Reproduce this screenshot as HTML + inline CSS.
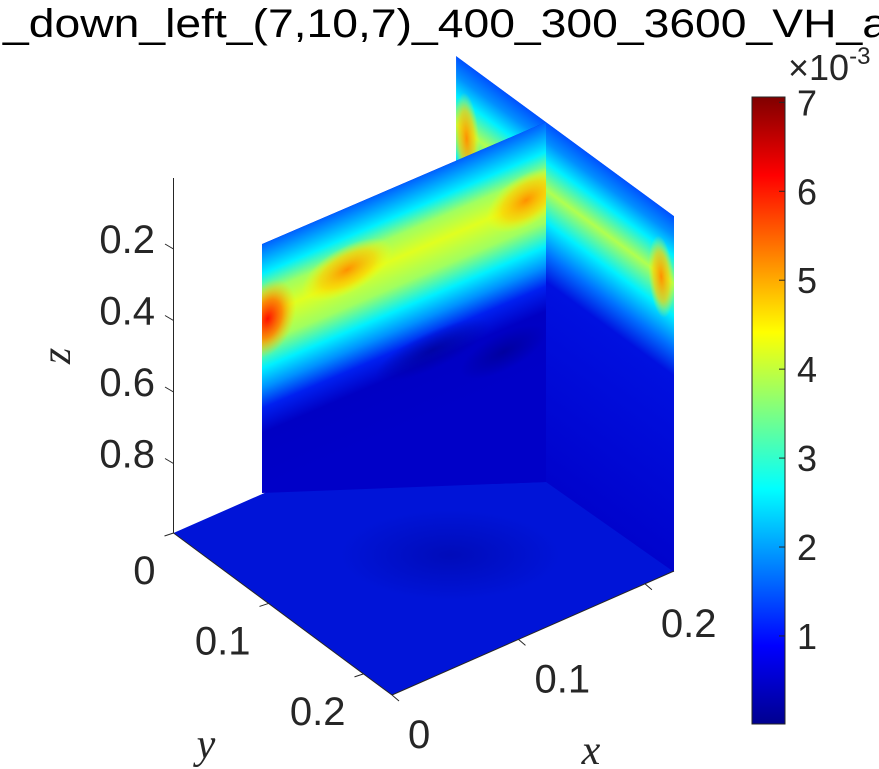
<!DOCTYPE html>
<html><head><meta charset="utf-8"><style>
html,body{margin:0;padding:0;background:#fff;}
svg{display:block;font-family:"Liberation Sans",Arial,sans-serif;}
</style></head><body>
<svg id="chart" width="879" height="769" viewBox="0 0 879 769" xmlns="http://www.w3.org/2000/svg">
<defs>
  <linearGradient id="jet" x1="0" y1="1" x2="0" y2="0">
    <stop offset="0" stop-color="#00008f"/>
    <stop offset="0.125" stop-color="#0000ff"/>
    <stop offset="0.375" stop-color="#00ffff"/>
    <stop offset="0.625" stop-color="#ffff00"/>
    <stop offset="0.875" stop-color="#ff0000"/>
    <stop offset="1" stop-color="#800000"/>
  </linearGradient>
  <linearGradient id="wallBase" x1="0" y1="0" x2="0" y2="1">
    <stop offset="0" stop-color="#0060ff"/>
    <stop offset="0.06" stop-color="#00a8ff"/>
    <stop offset="0.12" stop-color="#00f0ff"/>
    <stop offset="0.2" stop-color="#a0ff60"/>
    <stop offset="0.29" stop-color="#e0ff20"/>
    <stop offset="0.4" stop-color="#a0ff60"/>
    <stop offset="0.5" stop-color="#00f0ff"/>
    <stop offset="0.58" stop-color="#0090ff"/>
    <stop offset="0.66" stop-color="#0020f0"/>
    <stop offset="0.76" stop-color="#0000c4"/>
    <stop offset="1" stop-color="#0000c8"/>
  </linearGradient>
  <linearGradient id="wall2Base" x1="0" y1="0" x2="0" y2="1">
    <stop offset="0" stop-color="#0050ff"/>
    <stop offset="0.05" stop-color="#0090ff"/>
    <stop offset="0.1" stop-color="#00f0ff"/>
    <stop offset="0.17" stop-color="#b0ff50"/>
    <stop offset="0.25" stop-color="#00f0ff"/>
    <stop offset="0.33" stop-color="#0070ff"/>
    <stop offset="0.4" stop-color="#0010e0"/>
    <stop offset="1" stop-color="#0000c8"/>
  </linearGradient>
  <radialGradient id="hotRed">
    <stop offset="0" stop-color="#ff1000"/>
    <stop offset="0.5" stop-color="#ff8000" stop-opacity="0.9"/>
    <stop offset="1" stop-color="#ffd000" stop-opacity="0"/>
  </radialGradient>
  <radialGradient id="hotOrange">
    <stop offset="0" stop-color="#ff9000"/>
    <stop offset="0.6" stop-color="#ffd000" stop-opacity="0.7"/>
    <stop offset="1" stop-color="#ffff00" stop-opacity="0"/>
  </radialGradient>
  <radialGradient id="dark">
    <stop offset="0" stop-color="#000090" stop-opacity="0.7"/>
    <stop offset="1" stop-color="#000090" stop-opacity="0"/>
  </radialGradient>
  <clipPath id="w1clip"><rect x="0" y="0" width="1" height="1.6"/></clipPath>
  <clipPath id="w2clip"><rect x="-0.703" y="0" width="1.703" height="4"/></clipPath>
  <clipPath id="floorclip"><polygon points="262,0 262,493 546,482 674,572 674,0"/></clipPath>
</defs>

<text x="3" y="37" font-size="40" textLength="885" lengthAdjust="spacingAndGlyphs" fill="#000">_down_left_(7,10,7)_400_300_3600_VH_a</text>

<polygon points="173.5,533 455.5,409 674,571 392,695" fill="#0014d8"/>
<ellipse cx="450" cy="555" rx="110" ry="45" fill="url(#dark)" opacity="0.6"/>

<g clip-path="url(#floorclip)">
<g transform="matrix(128,94,0,100,546,122)" clip-path="url(#w2clip)">
  <rect x="-0.703" y="0" width="1.703" height="4" fill="url(#wall2Base)"/>
  <ellipse cx="-0.62" cy="0.75" rx="0.1" ry="0.45" fill="url(#hotOrange)"/>
  <ellipse cx="0.9" cy="0.7" rx="0.1" ry="0.4" fill="url(#hotOrange)"/>
</g>
<g transform="matrix(284,-122,0,249,262,244)" clip-path="url(#w1clip)">
  <rect x="0" y="0" width="1" height="1.6" fill="#0000c8"/>
  <rect x="0" y="0" width="1" height="1" fill="url(#wallBase)"/>
  <ellipse cx="0.02" cy="0.31" rx="0.1" ry="0.15" fill="url(#hotRed)"/>
  <ellipse cx="0.3" cy="0.25" rx="0.16" ry="0.1" fill="url(#hotOrange)"/>
  <ellipse cx="0.93" cy="0.28" rx="0.14" ry="0.11" fill="url(#hotOrange)"/>
  <ellipse cx="0.6" cy="0.72" rx="0.2" ry="0.08" fill="url(#dark)"/>
  <ellipse cx="0.85" cy="0.85" rx="0.15" ry="0.08" fill="url(#dark)"/>
</g>
</g>

<g id="axes" stroke="#262626" stroke-width="1" fill="none"></g>
<g id="labels" fill="#262626" font-size="40"></g>

<rect x="752" y="97" width="33" height="627" fill="url(#jet)" stroke="#262626" stroke-width="1"/>
<g id="cbar" fill="#262626" font-size="36"></g>
<text x="788" y="80" font-size="36" fill="#262626">×10<tspan font-size="24" dy="-16">-3</tspan></text>

<text x="0" y="0" font-size="42" font-family="Liberation Serif, serif" font-style="italic" fill="#262626" transform="translate(70,356) rotate(-90)" text-anchor="middle">z</text>
<text x="206" y="758" font-size="42" font-family="Liberation Serif, serif" font-style="italic" fill="#262626" text-anchor="middle">y</text>
<text x="591" y="764" font-size="42" font-family="Liberation Serif, serif" font-style="italic" fill="#262626" text-anchor="middle">x</text>

<script>
const zTicks = [0.2, 0.4, 0.6, 0.8];
const yTicks = [0, 0.1, 0.2];
const xTicks = [0, 0.1, 0.2];
const cbarTicks = [1, 2, 3, 4, 5, 6, 7];
const cbarMin = 0.01, cbarMax = 7.06;
const yAxMax = 0.23;
const xAxMax = 0.223;

const NS = 'http://www.w3.org/2000/svg';
const axes = document.getElementById('axes');
const labels = document.getElementById('labels');
const cbar = document.getElementById('cbar');
function mk(tag, attrs, parent){const e=document.createElementNS(NS,tag);for(const k in attrs)e.setAttribute(k,attrs[k]);parent.appendChild(e);return e;}

const zScale = v => 247 + (v - 0.2) / 0.2 * 71.5;
const zl = mk('line',{x1:173.5,y1:178,x2:173.5,y2:533},axes);


zTicks.forEach(v=>{
  const y = zScale(v);
  const t = mk('line',{x1:173.5,y1:y+2,x2:165,y2:y-3},axes);
  
  
  const tx = mk('text',{x:155,y:y+6,'text-anchor':'end'},labels);
  
  
  tx.textContent = String(v);
});

const yPos = v => ({x:173.5 + v/yAxMax*(392-173.5), y:533 + v/yAxMax*(695-533)});
const yl = mk('line',{x1:173.5,y1:533,x2:392,y2:695},axes);


yTicks.forEach(v=>{
  const p = yPos(v);
  const t = mk('line',{x1:p.x,y1:p.y,x2:p.x-9,y2:p.y+3},axes);
  
  
  const tx = mk('text',{x:p.x-18,y:p.y+51,'text-anchor':'end'},labels);
  
  
  tx.textContent = String(v);
});

const xPos = v => ({x:392 + v/xAxMax*(674-392), y:695 + v/xAxMax*(571-695)});
const xl = mk('line',{x1:392,y1:695,x2:674,y2:571},axes);


xTicks.forEach(v=>{
  const p = xPos(v);
  const t = mk('line',{x1:p.x,y1:p.y,x2:p.x+7,y2:p.y+6},axes);
  
  
  const tx = mk('text',{x:p.x+16,y:p.y+53,'text-anchor':'start'},labels);
  
  
  tx.textContent = String(v);
});

const cbY = v => 724 - (v - cbarMin)/(cbarMax - cbarMin)*(724-97);
cbarTicks.forEach(v=>{
  const y = cbY(v);
  const t = mk('line',{x1:779,y1:y,x2:785,y2:y,stroke:'#262626','stroke-width':1},cbar);
  
  
  const tx = mk('text',{x:797,y:y+13},cbar);
  
  
  tx.textContent = String(v);
});
</script>
</svg>
</body></html>
